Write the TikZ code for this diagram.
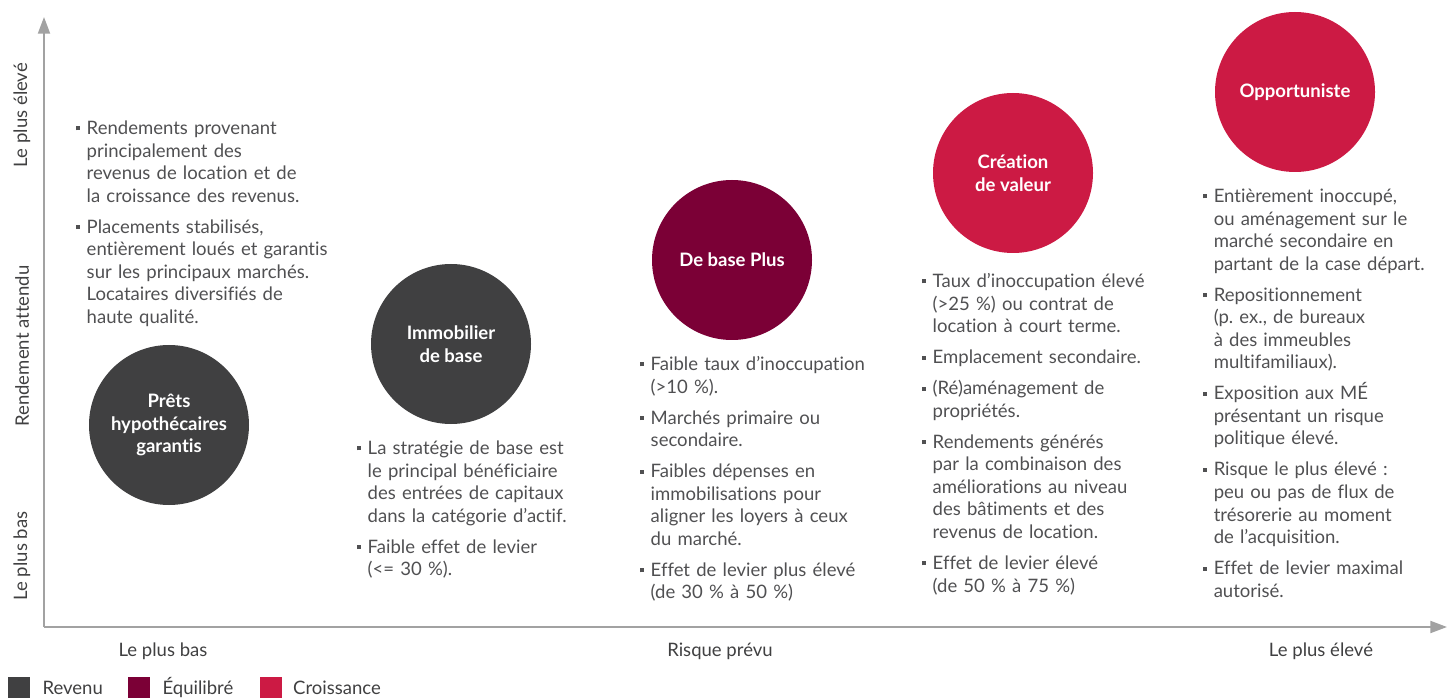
\documentclass[tikz,border=0pt]{standalone}
\usepackage{fontspec}
\setmainfont{Lato}[Ligatures={NoCommon}]
\usetikzlibrary{arrows.meta}
\usetikzlibrary{positioning}
\definecolor{revenu}{HTML}{404041}
\definecolor{equilibre}{HTML}{7B0036}
\definecolor{croissance}{HTML}{CC1A44}
\definecolor{texte}{HTML}{505052}
\definecolor{axe}{HTML}{A2A2A2}
\newcommand{\police}{\fontsize{13.9}{16.9}\selectfont}
\newcommand{\puce}{\rule[0.22em]{3pt}{3pt}}
\newenvironment{puces}{\frenchspacing\begin{list}{\puce}{\setlength{\leftmargin}{8.6pt}\setlength{\labelwidth}{3pt}\setlength{\labelsep}{5.4pt}\setlength{\itemsep}{6.4pt}\setlength{\parsep}{0pt}\setlength{\topsep}{0pt}\setlength{\partopsep}{0pt}}}{\end{list}}
\newcommand{\strategie}[5]{ \node[bulle, fill=#4] (#1) at ( #2 , #3 ) {#5};}
\tikzset{
  bulle/.style={circle, minimum size=120pt, inner sep=0pt, text=white, align=center, font=\police\bfseries},
  bloc/.style={anchor=base west, inner sep=0pt, text width=230pt, text=texte, font=\police},
  etiq/.style={inner sep=0pt, text=revenu, font=\police},
  carre/.style={minimum size=16.5pt, inner sep=0pt},
  axeligne/.style={draw=axe, line width=1.5pt, -{Triangle[length=12.5pt,width=9pt]}}
}

\begin{document}
\begin{tikzpicture}[x=0.75pt, y=-0.75pt]
        \useasboundingbox (0,0) rectangle (1452,698);

        % axes
        \coordinate (origine) at (44,627);
        \coordinate (yfin) at (44,17);
        \coordinate (xfin) at (1447,627);
        \draw[axeligne] (origine) -- (yfin);
        \draw[axeligne] (origine) -- (xfin);

        \node[etiq, rotate=90] (yhaut) at (22,115) {Le plus élevé};
        \node[etiq, rotate=90] (ymilieu) at (22,346) {Rendement attendu};
        \node[etiq, rotate=90] (ybas) at (22,556) {Le plus bas};

        \node[etiq, anchor=base] (xbas) at (163,656) {Le plus bas};
        \node[etiq, anchor=base] (xmilieu) at (720,656) {Risque prévu};
        \node[etiq, anchor=base] (xhaut) at (1321,656) {Le plus élevé};

        % strategies
        \strategie{prets}{169}{425}{revenu}{Prêts\\hypothécaires\\garantis}
        \strategie{immo}{451}{344}{revenu}{Immobilier\\de base}
        \strategie{plus}{732}{260}{equilibre}{De base Plus}
        \strategie{creation}{1013}{173}{croissance}{Création\\de valeur}
        \strategie{opport}{1295}{92}{croissance}{Opportuniste}

        % descriptions
        \node[bloc] (dprets) at (75,112) {\begin{puces}
          \item Rendements provenant\\principalement des\\revenus de location et de\\la croissance des revenus.
          \item Placements stabilisés,\\entièrement loués et garantis\\sur les principaux marchés.\\Locataires diversifiés de\\haute qualité.
        \end{puces}};
        \node[bloc] (dimmo) at (356,432) {\begin{puces}
          \item La stratégie de base est\\le principal bénéficiaire\\des entrées de capitaux\\dans la catégorie d’actif.
          \item Faible effet de levier\\(<= 30 \%).
        \end{puces}};
        \node[bloc] (dplus) at (639,348) {\begin{puces}
          \item Faible taux d’inoccupation\\(>10 \%).
          \item Marchés primaire ou\\secondaire.
          \item Faibles dépenses en\\immobilisations pour\\aligner les loyers à ceux\\du marché.
          \item Effet de levier plus élevé\\(de 30 \% à 50 \%)
        \end{puces}};
        \node[bloc] (dcreation) at (921,265) {\begin{puces}
          \item Taux d’inoccupation élevé\\(>25 \%) ou contrat de\\location à court terme.
          \item Emplacement secondaire.
          \item (Ré)aménagement de\\propriétés.
          \item Rendements générés\\par la combinaison des\\améliorations au niveau\\des bâtiments et des\\revenus de location.
          \item Effet de levier élevé\\(de 50 \% à 75 \%)
        \end{puces}};
        \node[bloc] (dopport) at (1202,180) {\begin{puces}
          \item Entièrement inoccupé,\\ou aménagement sur le\\marché secondaire en\\partant de la case départ.
          \item Repositionnement\\(p. ex., de bureaux\\à des immeubles\\multifamiliaux).
          \item Exposition aux MÉ\\présentant un risque\\politique élevé.
          \item Risque le plus élevé :\\peu ou pas de flux de\\trésorerie au moment\\de l’acquisition.
          \item Effet de levier maximal\\autorisé.
        \end{puces}};

        % legende
        \node[carre, fill=revenu] (lrevenu) at (19,688) {};
        \node[etiq, right=9pt of lrevenu] (trevenu) {Revenu};
        \node[carre, fill=equilibre] (lequilibre) at (139,688) {};
        \node[etiq, right=9pt of lequilibre] (tequilibre) {Équilibré};
        \node[carre, fill=croissance] (lcroissance) at (271,688) {};
        \node[etiq, right=8pt of lcroissance] (tcroissance) {Croissance};
\end{tikzpicture}
\end{document}
